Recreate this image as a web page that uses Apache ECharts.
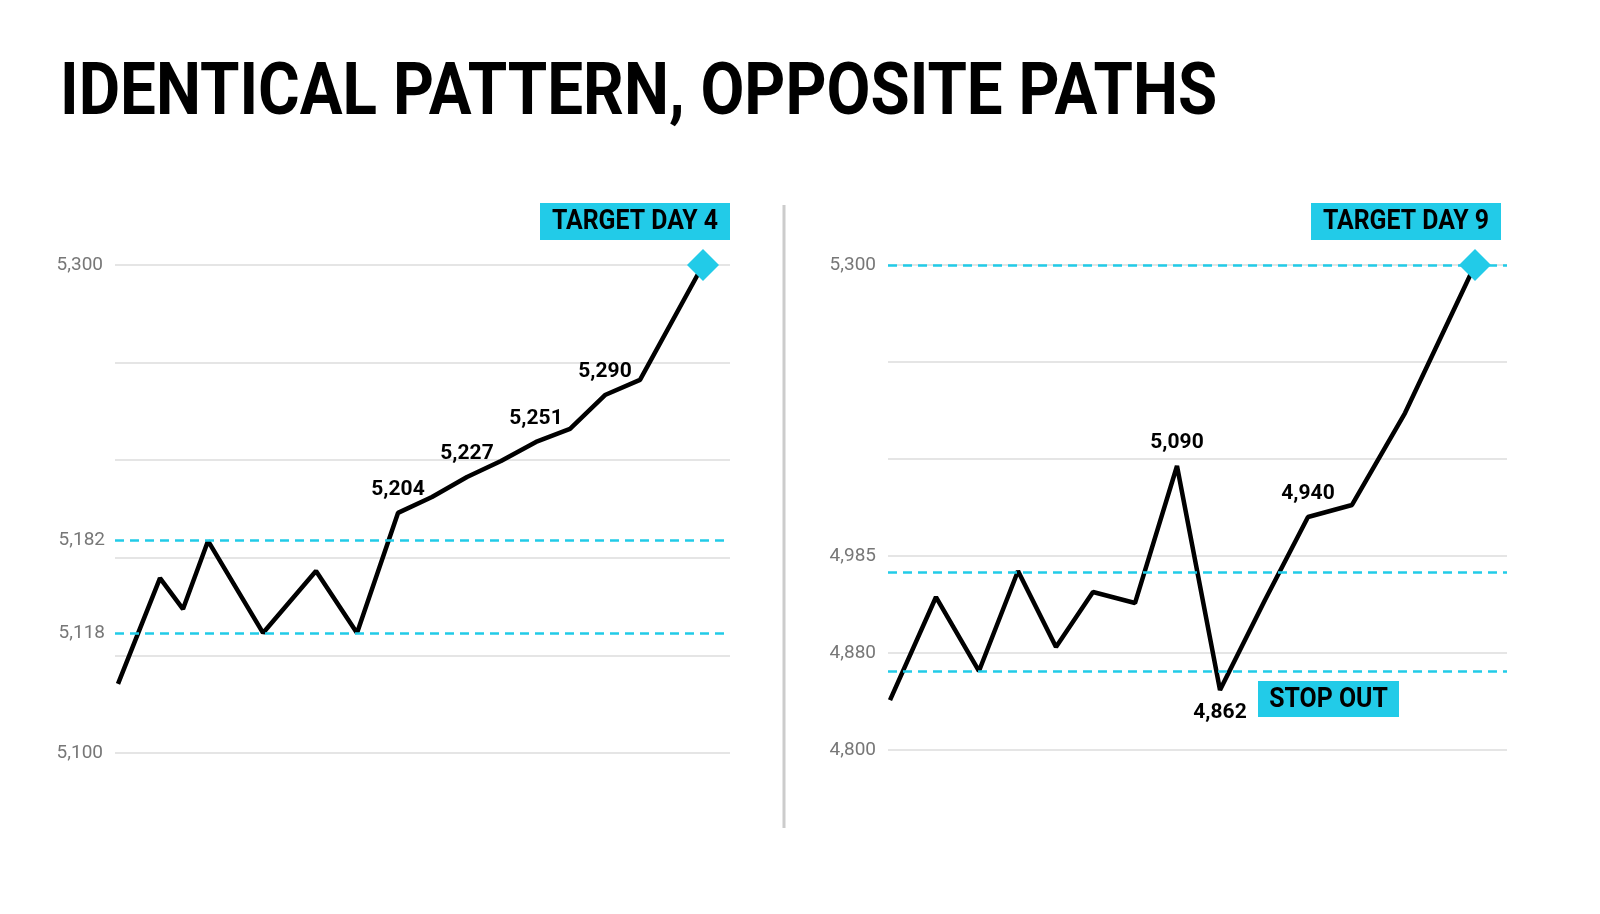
<!DOCTYPE html>
<html><head><meta charset="utf-8">
<script src="https://cdn.jsdelivr.net/npm/echarts@6/dist/echarts.min.js"></script>
<style>html,body{margin:0;background:#fff}#c{width:1600px;height:914px}</style>
</head><body><div id="c"></div>
<script>
// Left panel
const leftX = [3,45,68,93,148,201,242,283,317,352,386,421,455,490,525,588];
const leftY = [5128.3,5171.7,5159,5186.9,5149.2,5174.6,5149.2,5198.4,5204.9,5213.1,5219.7,5227.5,5232.8,5246.7,5252.9,5300];
const leftLabels = ['','','','','','','','5,204','','5,227','','5,251','','5,290','',''];
const leftTicks = ['5,100','','','','','5,300'];
const leftLevels = [5187,5149];
const leftLevelLabels = ['5,182','5,118'];
// Right panel
const rightX = [2,48,91,130,168,205,247,289,332,377,420,464,517,587];
const rightY = [4851.5,4957.7,4881.4,4984.5,4906.2,4962.9,4951.5,5092.8,4861.9,4954.6,5040.2,5052.6,5147.4,5300];
const rightLabels = ['','','','','','','','5,090','4,862','','4,940','','',''];
const rightLabelPos = ['top','top','top','top','top','top','top','top','bottom','top','top','top','top','top'];
const rightTicks = ['4,800','4,880','4,985','','','5,300'];
const rightLevels = [5300,4983.5,4881.4];

const CY='#22cbe8', FONT='"Roboto",sans-serif';
function pts(xs,ys){return xs.map((x,i)=>[x,ys[i]]);}
function lvlLines(vals,labels){return vals.map((v,i)=>({yAxis:v,label:{show:!!(labels&&labels[i]),formatter:labels?labels[i]:'',position:'start',color:'#777',fontSize:19,fontFamily:FONT,distance:10}}));}
const chart=echarts.init(document.getElementById('c'));
const yax=(g,min,max,int,ticks)=>({gridIndex:g,type:'value',min,max,interval:int,
  axisLine:{show:false},axisTick:{show:false},
  splitLine:{lineStyle:{color:'#ddd',width:1.5}},
  axisLabel:{color:'#777',fontSize:19,fontFamily:FONT,margin:12,formatter:(v)=>ticks[Math.round((v-min)/int)]||''}});
const lineSeries=(i,xs,ys,labels,pos,levels,levelLabels)=>({type:'line',xAxisIndex:i,yAxisIndex:i,
  data:xs.map((x,k)=>({value:[x,ys[k]],label:{position:pos[k]}})),
  symbol:'circle',symbolSize:1,showSymbol:true,itemStyle:{color:'rgba(0,0,0,0)'},
  lineStyle:{color:'#000',width:4.5},z:3,
  label:{show:true,distance:12,color:'#000',fontSize:21,fontWeight:'bold',fontFamily:FONT,
    formatter:p=>labels[p.dataIndex]},
  markLine:{silent:true,symbol:'none',lineStyle:{color:CY,type:[9,6],width:2.5},data:lvlLines(levels,levelLabels)},
  markPoint:{symbol:'diamond',symbolSize:[32,32],itemStyle:{color:CY},label:{show:false},data:[{coord:[xs[xs.length-1],ys[ys.length-1]]}]}});
const box=(x,y,w,h,t)=>[{type:'rect',shape:{x,y,width:w,height:h},style:{fill:CY}},
  {type:'text',x:x+w/2,y:y+h/2+1,scaleX:0.92,style:{text:t,align:'center',verticalAlign:'middle',fontSize:27,fontWeight:'bold',fontFamily:FONT,fill:'#000'}}];
chart.setOption({
  animation:false,
  grid:[{left:115,top:265,width:615,height:488},{left:888,top:265,width:619,height:485}],
  xAxis:[{gridIndex:0,type:'value',min:0,max:615,show:false},{gridIndex:1,type:'value',min:0,max:619,show:false}],
  yAxis:[yax(0,5100,5300,40,leftTicks),yax(1,4800,5300,100,rightTicks)],
  series:[lineSeries(0,leftX,leftY,leftLabels,leftX.map(()=>'top'),leftLevels,leftLevelLabels),
          lineSeries(1,rightX,rightY,rightLabels,rightLabelPos,rightLevels,null)],
  graphic:[
    {type:'text',x:60,y:60,scaleX:0.885,style:{text:'IDENTICAL PATTERN, OPPOSITE PATHS',fontSize:72,fontWeight:'bold',fontFamily:FONT,fill:'#000'}},
    {type:'line',shape:{x1:784,y1:205,x2:784,y2:828},style:{stroke:'#ccc',lineWidth:3}},
    ...box(540,203,190,37,'TARGET DAY 4'),
    ...box(1311,203,190,37,'TARGET DAY 9'),
    ...box(1258,681,141,36,'STOP OUT')
  ]
});
</script></body></html>
